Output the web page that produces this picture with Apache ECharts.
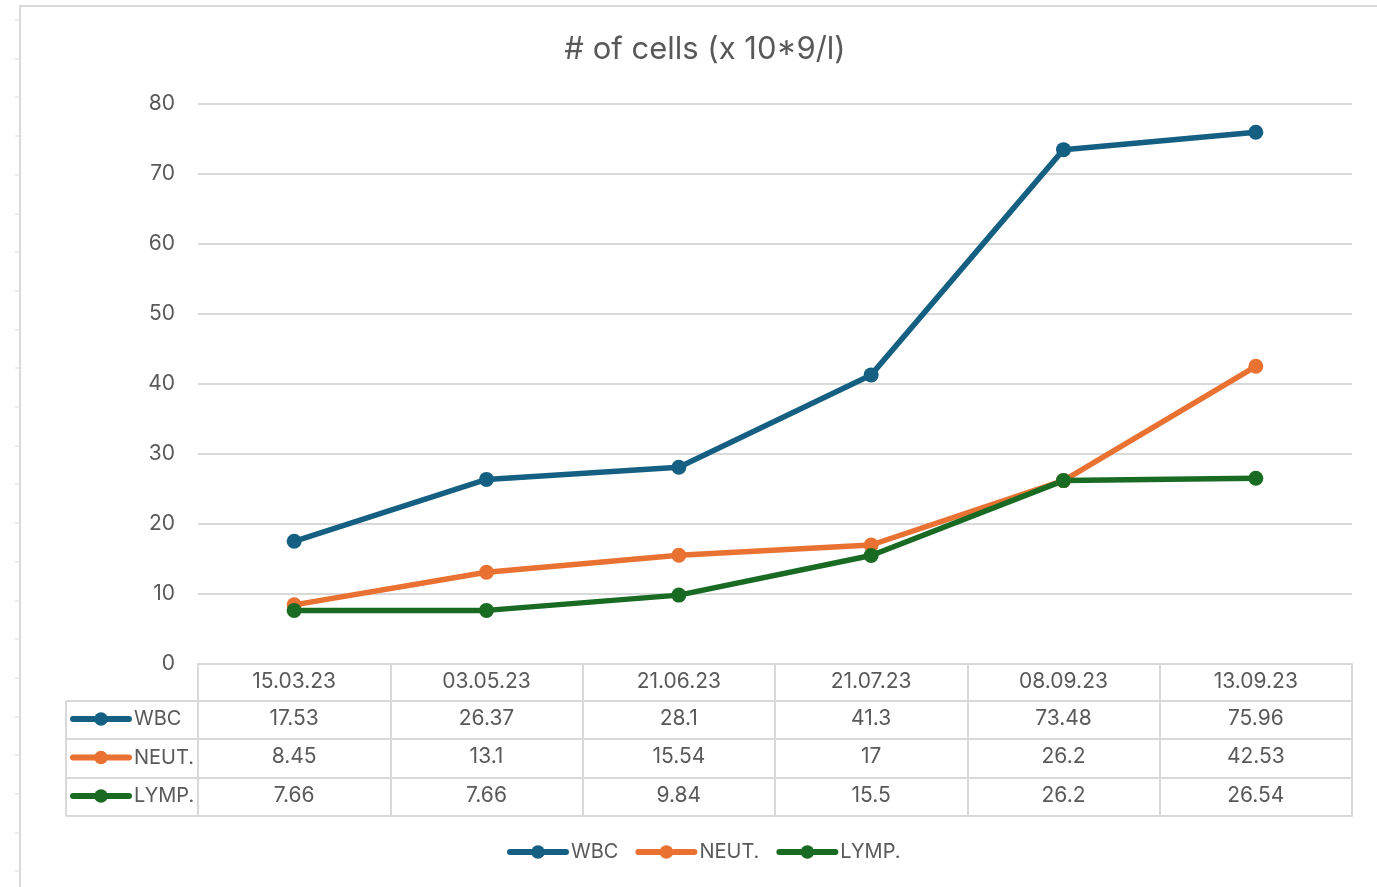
<!DOCTYPE html>
<html>
<head>
<meta charset="utf-8">
<script src="https://cdn.jsdelivr.net/npm/echarts@6/dist/echarts.min.js"></script>
<style>
  html, body { margin: 0; padding: 0; background: #fff; }
  #chart { width: 1377px; height: 887px; }
</style>
</head>
<body>
<div id="chart"></div>
<script>
// Sampling dates and cell counts (x 10^9/l)
const dates = ['15.03.23', '03.05.23', '21.06.23', '21.07.23', '08.09.23', '13.09.23'];
const wbc   = [17.53, 26.37, 28.1, 41.3, 73.48, 75.96];
const neut  = [8.45, 13.1, 15.54, 17, 26.2, 42.53];
const lymp  = [7.66, 7.66, 9.84, 15.5, 26.2, 26.54];
const seriesNames  = ['WBC', 'NEUT.', 'LYMP.'];
const seriesColors = ['#156082', '#E97132', '#196B24'];
const yTicks = { min: 0, max: 80, interval: 10 };

const FONT = 'Inter, "Liberation Sans", sans-serif';
const TEXT = '#595959';
const RULE = '#d9d9d9';
const FS = 21;

const chart = echarts.init(document.getElementById('chart'), null, { renderer: 'canvas' });

// One bottom axis per data-table row; labels come from the row's values
function rowAxis(offset, values) {
  return {
    type: 'category',
    data: dates,
    position: 'bottom',
    offset: offset,
    boundaryGap: true,
    axisLine: { show: true, lineStyle: { color: RULE, width: 2 } },
    axisTick: { show: false },
    splitLine: { show: false },
    axisLabel: {
      show: !!values,
      interval: 0,
      margin: 8,
      color: TEXT,
      fontFamily: FONT,
      fontSize: FS,
      lineHeight: 20,
      formatter: (v, i) => values ? String(values[i]) : ''
    }
  };
}

// Left-hand key column of the data table
const tableGraphics = [];
const keyRows = [701, 739, 778, 816];
keyRows.forEach(y => tableGraphics.push({
  type: 'line', shape: { x1: 66, y1: y, x2: 198, y2: y },
  style: { stroke: RULE, lineWidth: 2 }, silent: true
}));
tableGraphics.push({
  type: 'line', shape: { x1: 66, y1: 701, x2: 66, y2: 816 },
  style: { stroke: RULE, lineWidth: 2 }, silent: true
});
// Frame of the chart object and the sheet's row marks beside it
tableGraphics.push({
  type: 'polyline', shape: { points: [[20, 887], [20, 6], [1377, 6]] },
  style: { stroke: RULE, lineWidth: 2, fill: null }, silent: true
});
for (let y = 20; y < 887; y += 38.7) {
  tableGraphics.push({
    type: 'line', shape: { x1: 15, y1: Math.round(y), x2: 19, y2: Math.round(y) },
    style: { stroke: RULE, lineWidth: 1 }, silent: true
  });
}

const seriesData = [wbc, neut, lymp];

const legendCommon = {
  data: seriesNames,
  padding: 0,
  itemWidth: 56,
  itemHeight: 17,
  lineStyle: { width: 6, cap: 'round' },
  textStyle: { color: TEXT, fontFamily: FONT, fontSize: 20, lineHeight: 20 }
};

chart.setOption({
  backgroundColor: '#ffffff',
  animation: false,
  title: {
    text: '# of cells (x 10*9/l)',
    left: 700,
    top: 29,
    textAlign: 'center',
    textStyle: { color: TEXT, fontFamily: FONT, fontSize: 31, fontWeight: 'normal' }
  },
  legend: [
    Object.assign({}, legendCommon, {
      orient: 'vertical',
      left: 70,
      top: 709,
      itemGap: 18.5
    }),
    Object.assign({}, legendCommon, {
      orient: 'horizontal',
      left: 507,
      top: 842,
      itemGap: 17
    })
  ],
  grid: { left: 198, right: 25, top: 104, bottom: 223, containLabel: false },
  xAxis: [
    {
      type: 'category',
      data: dates,
      position: 'bottom',
      boundaryGap: true,
      axisLine: { show: true, lineStyle: { color: RULE, width: 2 } },
      axisTick: { show: true, interval: 0, length: 152, lineStyle: { color: RULE, width: 2 } },
      axisLabel: { interval: 0, margin: 8, color: TEXT, fontFamily: FONT, fontSize: FS, lineHeight: 20 }
    },
    rowAxis(37, wbc),
    rowAxis(75, neut),
    rowAxis(114, lymp),
    rowAxis(152, null)
  ],
  yAxis: {
    type: 'value',
    min: yTicks.min,
    max: yTicks.max,
    interval: yTicks.interval,
    axisLine: { show: false },
    axisTick: { show: false },
    splitLine: { show: true, lineStyle: { color: RULE, width: 2 } },
    axisLabel: { margin: 23, color: TEXT, fontFamily: FONT, fontSize: FS }
  },
  series: seriesNames.map((name, k) => ({
    name: name,
    type: 'line',
    xAxisIndex: 0,
    data: seriesData[k],
    color: seriesColors[k],
    symbol: 'circle',
    symbolSize: 15,
    lineStyle: { width: 5.5, color: seriesColors[k] },
    itemStyle: { color: seriesColors[k] },
    emphasis: { disabled: true }
  })),
  graphic: tableGraphics
});
</script>
</body>
</html>
